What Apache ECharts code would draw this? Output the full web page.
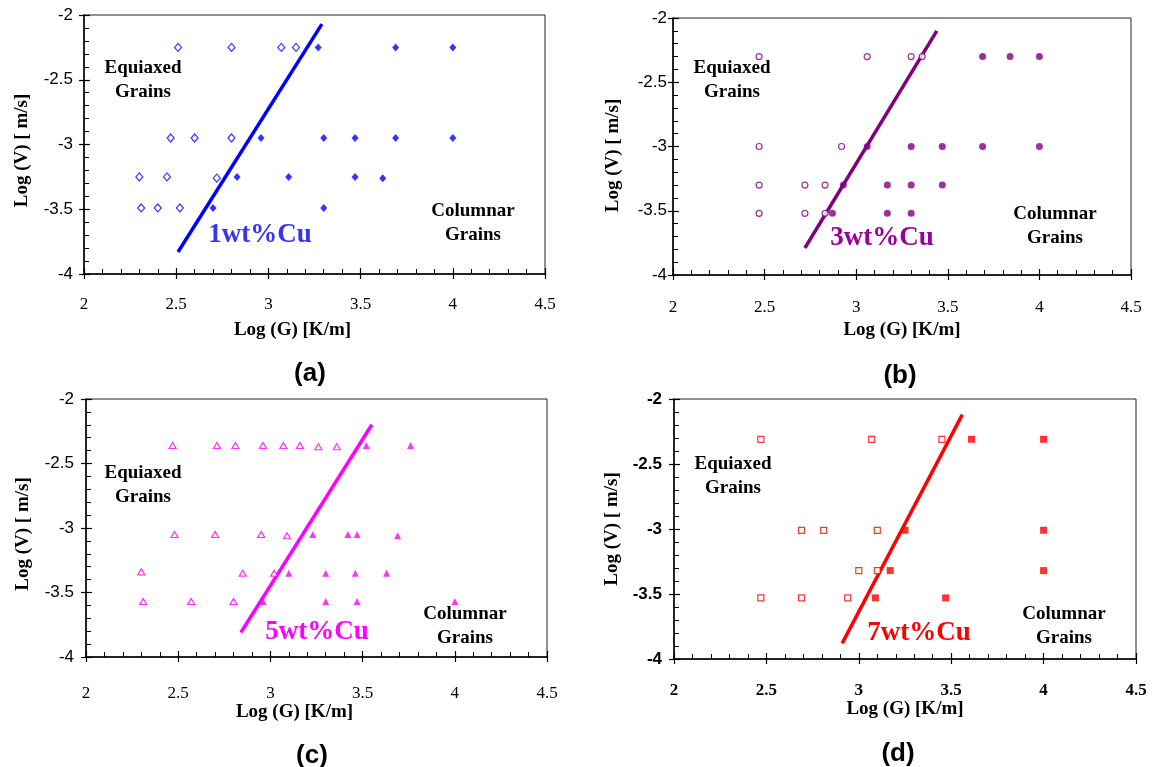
<!DOCTYPE html>
<html>
<head>
<meta charset="utf-8">
<script src="https://cdn.jsdelivr.net/npm/echarts@6/dist/echarts.min.js"></script>
<style>
  html, body { margin: 0; padding: 0; background: #fff; }
  #chart { width: 1153px; height: 767px; }
</style>
</head>
<body>
<div id="chart"></div>
<script>
// tick labels shared by all four panels
const gTicks = [2, 2.5, 3, 3.5, 4, 4.5];
const vTicks = [-2, -2.5, -3, -3.5, -4];

// (a) 1wt%Cu : [log G, log V]
const cu1Open = [[2.51, -2.25], [2.80, -2.25], [3.07, -2.25], [3.15, -2.25],
  [2.47, -2.95], [2.60, -2.95], [2.80, -2.95],
  [2.30, -3.25], [2.45, -3.25], [2.72, -3.26],
  [2.31, -3.49], [2.40, -3.49], [2.52, -3.49]];
const cu1Filled = [[3.27, -2.25], [3.69, -2.25], [4.0, -2.25],
  [2.96, -2.95], [3.30, -2.95], [3.47, -2.95], [3.69, -2.95], [4.0, -2.95],
  [2.83, -3.25], [3.11, -3.25], [3.47, -3.25], [3.62, -3.26],
  [2.70, -3.49], [3.30, -3.49]];
const cu1Line = [[2.51, -3.83], [3.29, -2.07]];

// (b) 3wt%Cu
const cu3Open = [[2.47, -2.3], [3.06, -2.3], [3.30, -2.3], [3.36, -2.3],
  [2.47, -3.0], [2.92, -3.0],
  [2.47, -3.3], [2.72, -3.3], [2.83, -3.3],
  [2.47, -3.52], [2.72, -3.52], [2.83, -3.52]];
const cu3Filled = [[3.69, -2.3], [3.84, -2.3], [4.0, -2.3],
  [3.06, -3.0], [3.30, -3.0], [3.47, -3.0], [3.69, -3.0], [4.0, -3.0],
  [2.93, -3.3], [3.17, -3.3], [3.30, -3.3], [3.47, -3.3],
  [2.87, -3.52], [3.17, -3.52], [3.30, -3.52]];
const cu3Line = [[2.72, -3.79], [3.44, -2.10]];

// (c) 5wt%Cu
const cu5Open = [[2.47, -2.36], [2.71, -2.36], [2.81, -2.36], [2.96, -2.36],
  [3.07, -2.36], [3.16, -2.36], [3.26, -2.37], [3.36, -2.37],
  [2.48, -3.05], [2.70, -3.05], [2.95, -3.05], [3.09, -3.06],
  [2.30, -3.34], [2.85, -3.35], [3.02, -3.35],
  [2.31, -3.57], [2.57, -3.57], [2.80, -3.57]];
const cu5Filled = [[3.52, -2.36], [3.76, -2.36],
  [3.23, -3.05], [3.42, -3.05], [3.47, -3.05], [3.69, -3.06],
  [3.10, -3.35], [3.30, -3.35], [3.46, -3.35], [3.63, -3.35],
  [2.96, -3.57], [3.30, -3.57], [3.47, -3.57], [4.0, -3.57]];
const cu5Line = [[2.84, -3.81], [3.55, -2.20]];

// (d) 7wt%Cu
const cu7Open = [[2.47, -2.31], [3.07, -2.31], [3.45, -2.31],
  [2.69, -3.01], [2.81, -3.01], [3.10, -3.01],
  [3.00, -3.32], [3.10, -3.32],
  [2.47, -3.53], [2.69, -3.53], [2.94, -3.53]];
const cu7Filled = [[3.61, -2.31], [4.0, -2.31],
  [3.25, -3.01], [4.0, -3.01],
  [3.17, -3.32], [4.0, -3.32],
  [3.09, -3.53], [3.47, -3.53]];
const cu7Line = [[2.91, -3.88], [3.56, -2.12]];

const SERIF = '"Liberation Serif", "Times New Roman", serif';
const SANS = '"Liberation Sans", Arial, sans-serif';

const panels = [
  { open: cu1Open, filled: cu1Filled, line: cu1Line, color: '#0000ff', labelColor: '#3535f5',
    symbol: 'diamond', size: [7, 8], fsize: [7, 8], title: '1wt%Cu', tag: '(a)',
    grid: { left: 84, top: 15, width: 461, height: 259 },
    xLabelMargin: 22, xNameGap: 47, xNameShift: -22, yLabelMargin: 11, yNameGap: 52, yNameShift: 6, bold: false,
    titlePos: [260, 235], eqPos: [143, 80], colPos: [473, 223], tagPos: [310, 374] },
  { open: cu3Open, filled: cu3Filled, line: cu3Line, color: '#800080', labelColor: '#990099',
    symbol: 'circle', size: 6, fsize: 7, title: '3wt%Cu', tag: '(b)',
    grid: { left: 673, top: 18, width: 458, height: 257 },
    xLabelMargin: 24, xNameGap: 46, xNameShift: 0, yLabelMargin: 6, yNameGap: 50, yNameShift: 9, bold: false,
    titlePos: [882, 238], eqPos: [732, 80], colPos: [1055, 226], tagPos: [900, 376] },
  { open: cu5Open, filled: cu5Filled, line: cu5Line, color: '#ff00ff', labelColor: '#ff00ff',
    symbol: 'triangle', size: [7, 6], fsize: [7, 7], title: '5wt%Cu', tag: '(c)',
    grid: { left: 86, top: 399, width: 461, height: 258 },
    xLabelMargin: 28, xNameGap: 46, xNameShift: -22, yLabelMargin: 12, yNameGap: 53, yNameShift: 6, bold: false,
    titlePos: [317, 632], eqPos: [143, 485], colPos: [465, 626], tagPos: [312, 756] },
  { open: cu7Open, filled: cu7Filled, line: cu7Line, color: '#ff0000', labelColor: '#ff0000',
    symbol: 'rect', size: 6, fsize: 7, title: '7wt%Cu', tag: '(d)',
    grid: { left: 674, top: 399, width: 462, height: 260 },
    xLabelMargin: 23, xNameGap: 41, xNameShift: 0, yLabelMargin: 12, yNameGap: 52, yNameShift: 0, bold: true,
    titlePos: [919, 633], eqPos: [733, 476], colPos: [1064, 626], tagPos: [898, 754] }
];

const grids = [], xAxes = [], yAxes = [], series = [], graphics = [];

panels.forEach((p, i) => {
  grids.push(Object.assign({ show: true, borderColor: '#222', borderWidth: 1, backgroundColor: '#fff' }, p.grid));

  // main x axis: labels, inner major + minor ticks
  xAxes.push({
    gridIndex: i, type: 'value', position: 'bottom',
    min: gTicks[0], max: gTicks[gTicks.length - 1], interval: 0.5,
    axisLine: { lineStyle: { color: '#000', width: 1.5 } },
    axisTick: { inside: true, length: 6, lineStyle: { color: '#000', width: 1.2 } },
    minorTick: { show: true, splitNumber: 5, length: 5, lineStyle: { color: '#000', width: 1 } },
    splitLine: { show: false },
    axisLabel: { color: '#000', fontFamily: SERIF, fontSize: 17, fontWeight: p.bold ? 'bold' : 'normal',
      margin: p.xLabelMargin, showMinLabel: true, showMaxLabel: true },
    name: 'Log (G) [K/m]', nameLocation: 'middle', nameGap: p.xNameGap,
    nameTextStyle: { color: '#000', fontFamily: SERIF, fontSize: 19, fontWeight: 'bold',
      padding: p.xNameShift < 0 ? [0, -2 * p.xNameShift, 0, 0] : 0 }
  });
  // outward half of the crossing major ticks
  xAxes.push({
    gridIndex: i, type: 'value', position: 'bottom',
    min: gTicks[0], max: gTicks[gTicks.length - 1], interval: 0.5,
    axisLine: { show: false },
    axisTick: { inside: false, length: 5, lineStyle: { color: '#000', width: 1.2 } },
    splitLine: { show: false }, axisLabel: { show: false }
  });

  yAxes.push({
    gridIndex: i, type: 'value', position: 'left',
    min: vTicks[vTicks.length - 1], max: vTicks[0], interval: 0.5,
    axisLine: { lineStyle: { color: '#000', width: 1.5 } },
    axisTick: { inside: true, length: 6, lineStyle: { color: '#000', width: 1.2 } },
    minorTick: { show: true, splitNumber: 5, length: 5, lineStyle: { color: '#000', width: 1 } },
    splitLine: { show: false },
    axisLabel: { color: '#000', fontFamily: SANS, fontSize: 17, fontWeight: p.bold ? 'bold' : 'normal',
      margin: p.yLabelMargin },
    name: 'Log (V) [ m/s]', nameLocation: 'middle', nameGap: p.yNameGap, nameRotate: 90,
    nameTextStyle: { color: '#000', fontFamily: SERIF, fontSize: 19, fontWeight: 'bold',
      padding: p.yNameShift ? [0, 2 * p.yNameShift, 0, 0] : 0 }
  });
  yAxes.push({
    gridIndex: i, type: 'value', position: 'left',
    min: vTicks[vTicks.length - 1], max: vTicks[0], interval: 0.5,
    axisLine: { show: false },
    axisTick: { inside: false, length: 5, lineStyle: { color: '#000', width: 1.2 } },
    splitLine: { show: false }, axisLabel: { show: false }
  });

  const xi = i * 2, yi = i * 2;
  series.push({
    type: 'line', xAxisIndex: xi, yAxisIndex: yi, data: p.line, symbol: 'none', z: 2,
    lineStyle: { color: p.color, width: 3.5 }
  });
  series.push({
    type: 'scatter', xAxisIndex: xi, yAxisIndex: yi, data: p.open, symbol: p.symbol, symbolSize: p.size, z: 3,
    itemStyle: { color: '#fff', borderColor: p.color, borderWidth: 1.2 }
  });
  series.push({
    type: 'scatter', xAxisIndex: xi, yAxisIndex: yi, data: p.filled, symbol: p.symbol, symbolSize: p.fsize, z: 4,
    itemStyle: { color: p.color }
  });

  const txt = (pos, text, font, fill, lh) => ({
    type: 'text', x: pos[0], y: pos[1], z: 100,
    style: { text, font, fill, lineHeight: lh || 24,
      align: 'center', verticalAlign: 'middle', textAlign: 'center', textVerticalAlign: 'middle' }
  });
  graphics.push(txt(p.eqPos, 'Equiaxed\nGrains', 'bold 19px ' + SERIF, '#000'));
  graphics.push(txt(p.colPos, 'Columnar\nGrains', 'bold 19px ' + SERIF, '#000'));
  graphics.push(txt(p.titlePos, p.title, 'bold 27px ' + SERIF, p.labelColor));
  graphics.push(txt(p.tagPos, p.tag, 'bold 26px ' + SANS, '#000'));
});

const chart = echarts.init(document.getElementById('chart'), null, { renderer: 'canvas' });
chart.setOption({
  animation: false,
  backgroundColor: '#fff',
  grid: grids,
  xAxis: xAxes,
  yAxis: yAxes,
  series: series,
  graphic: graphics
});
</script>
</body>
</html>
